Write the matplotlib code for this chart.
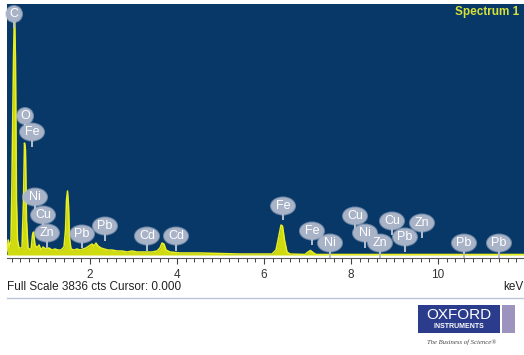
import matplotlib
matplotlib.use("Agg")
import matplotlib.pyplot as plt
from matplotlib.patches import Rectangle, Ellipse
from matplotlib.lines import Line2D
from matplotlib.ticker import MultipleLocator

plt.rcParams['font.family'] = ['Liberation Sans', 'DejaVu Sans']

# EDS spectrum outline (energy in keV, counts)
energy_kev = [0.092, 0.12, 0.15, 0.184, 0.207, 0.241, 0.264, 0.287, 0.310, 0.333,
              0.368, 0.437, 0.471, 0.494, 0.517, 0.540, 0.575, 0.644, 0.678, 0.701,
              0.736, 0.782, 0.828, 0.874, 0.920, 0.989, 1.057, 1.126, 1.195, 1.264,
              1.333, 1.402, 1.437, 1.460, 1.483, 1.506, 1.529, 1.563, 1.632, 1.701,
              1.770, 1.839, 1.908, 1.977, 2.046, 2.092, 2.138, 2.184, 2.253, 2.322,
              2.414, 2.506, 2.621, 2.736, 2.851, 2.966, 3.080, 3.195, 3.310, 3.425,
              3.540, 3.609, 3.655, 3.701, 3.747, 3.839, 4.069, 4.529, 4.989, 5.448,
              5.908, 6.184, 6.276, 6.333, 6.391, 6.425, 6.471, 6.529, 6.598, 6.943,
              7.011, 7.069, 7.126, 7.195, 11.977]
counts = [60, 230, 120, 229, 1192, 2980, 3774, 2980, 840, 229,
          107, 107, 840, 1711, 1604, 535, 107, 76, 306, 351,
          153, 107, 153, 76, 122, 92, 107, 76, 92, 76,
          76, 122, 382, 840, 978, 764, 260, 92, 76, 92,
          76, 92, 107, 138, 168, 138, 183, 138, 107, 92,
          76, 76, 61, 61, 46, 61, 46, 46, 46, 46,
          61, 107, 183, 168, 76, 46, 31, 31, 23, 15,
          15, 15, 76, 260, 458, 443, 229, 46, 15, 8,
          46, 69, 38, 8, 8]
full_scale_cts = 3836
cursor_kev = 0.000

# Element line markers: label, energy (keV), marker height (counts)
line_names = ["C", "O", "Fe", "Ni", "Cu", "Zn", "Pb", "Pb", "Cd", "Cd",
              "Fe", "Fe", "Ni", "Cu", "Ni", "Zn", "Cu", "Pb", "Zn", "Pb", "Pb"]
line_energy = [0.253, 0.506, 0.667, 0.736, 0.920, 1.011, 1.816, 2.345, 3.310, 3.977,
               6.437, 7.103, 7.517, 8.092, 8.322, 8.667, 8.943, 9.241, 9.632, 10.598, 11.402]
line_height = [3683, 2124, 1879, 886, 611, 336, 321, 443, 290, 290,
               749, 367, 183, 596, 336, 183, 520, 275, 489, 183, 183]

W, H = 524, 355
fig = plt.figure(figsize=(W / 100, H / 100), dpi=100)
fig.patch.set_facecolor('white')

ax = fig.add_axes([7 / W, (H - 255) / H, 517 / W, 251 / H])
ax.set_facecolor('#083868')
ax.set_xlim(0.092, 11.977)
ax.set_ylim(0, full_scale_cts)

ax.fill_between(energy_kev, 0, counts, color='#D0DA10', lw=0, zorder=2)
ax.plot(energy_kev, counts, color='#E8EE20', lw=1.1, zorder=3)

for sp in ['top', 'right', 'left']:
    ax.spines[sp].set_visible(False)
ax.spines['bottom'].set_position(('outward', 2))
ax.spines['bottom'].set_color('#555555')
ax.spines['bottom'].set_linewidth(0.8)
ax.set_yticks([])
ax.xaxis.set_major_locator(MultipleLocator(2))
ax.xaxis.set_minor_locator(MultipleLocator(0.2))
ax.tick_params(axis='x', which='major', length=4, width=0.8, color='#444444',
               labelsize=8.5, labelcolor='#333333', pad=4)
ax.tick_params(axis='x', which='minor', length=3, width=0.7, color='#444444')

# element markers: rounded bubble with a short stem
px_x = 1 / 43.5
px_y = full_scale_cts / 251
for name, e, h in zip(line_names, line_energy, line_height):
    wpx = 16 if len(name) == 1 else 24
    hpx = 16 if len(name) == 1 else 17
    bw, bh = wpx * px_x, hpx * px_y
    ax.plot([e, e], [h - bh / 2 + px_y, h - bh / 2 - 6 * px_y], color='#B4BED0',
            lw=1.4, solid_capstyle='butt', zorder=4, clip_on=False)
    ax.add_patch(Ellipse((e, h), bw + 2 * px_x, bh + 2 * px_y, fc='#C0C9D8',
                         ec='none', alpha=0.55, zorder=5, clip_on=False))
    ax.add_patch(Ellipse((e, h), bw, bh, fc='#A8B3C8', ec='none', zorder=6,
                         clip_on=False))
    ax.text(e, h, name, ha='center', va='center', color='white',
            fontsize=9, zorder=7, clip_on=False)

fig.text(519 / W, 1 - 12 / H, 'Spectrum 1', ha='right', va='center',
         color='#D4E03A', fontsize=8.5, fontweight='bold')

fig.text(7 / W, 1 - 287 / H,
         f'Full Scale {full_scale_cts} cts Cursor: {cursor_kev:.3f}',
         ha='left', va='center', fontsize=8.5, color='#222222')
fig.text(503 / W, 1 - 287 / H, 'keV', ha='left', va='center',
         fontsize=8.5, color='#222222')

fig.add_artist(Line2D([7 / W, 1], [1 - 298 / H, 1 - 298 / H],
                      color='#BCC6D8', lw=1.0, transform=fig.transFigure))

# Oxford Instruments logo
fig.add_artist(Rectangle((418 / W, 1 - 333 / H), 82 / W, 28 / H,
                         transform=fig.transFigure, fc='#2C3C8C', ec='none'))
fig.add_artist(Rectangle((502 / W, 1 - 333 / H), 13 / W, 28 / H,
                         transform=fig.transFigure, fc='#9C94BE', ec='none'))
fig.text(459 / W, 1 - 315 / H, 'OXFORD', ha='center', va='center',
         color='white', fontsize=11, fontweight='light')
fig.text(459 / W, 1 - 326 / H, 'INSTRUMENTS', ha='center', va='center',
         color='white', fontsize=5, fontweight='bold')
fig.text(462 / W, 1 - 342 / H, 'The Business of Science\u00ae', ha='center',
         va='center', color='#444444', fontsize=4.8, style='italic',
         family=['Liberation Serif', 'DejaVu Serif'])

fig.savefig('out.png', dpi=100, facecolor='white')
